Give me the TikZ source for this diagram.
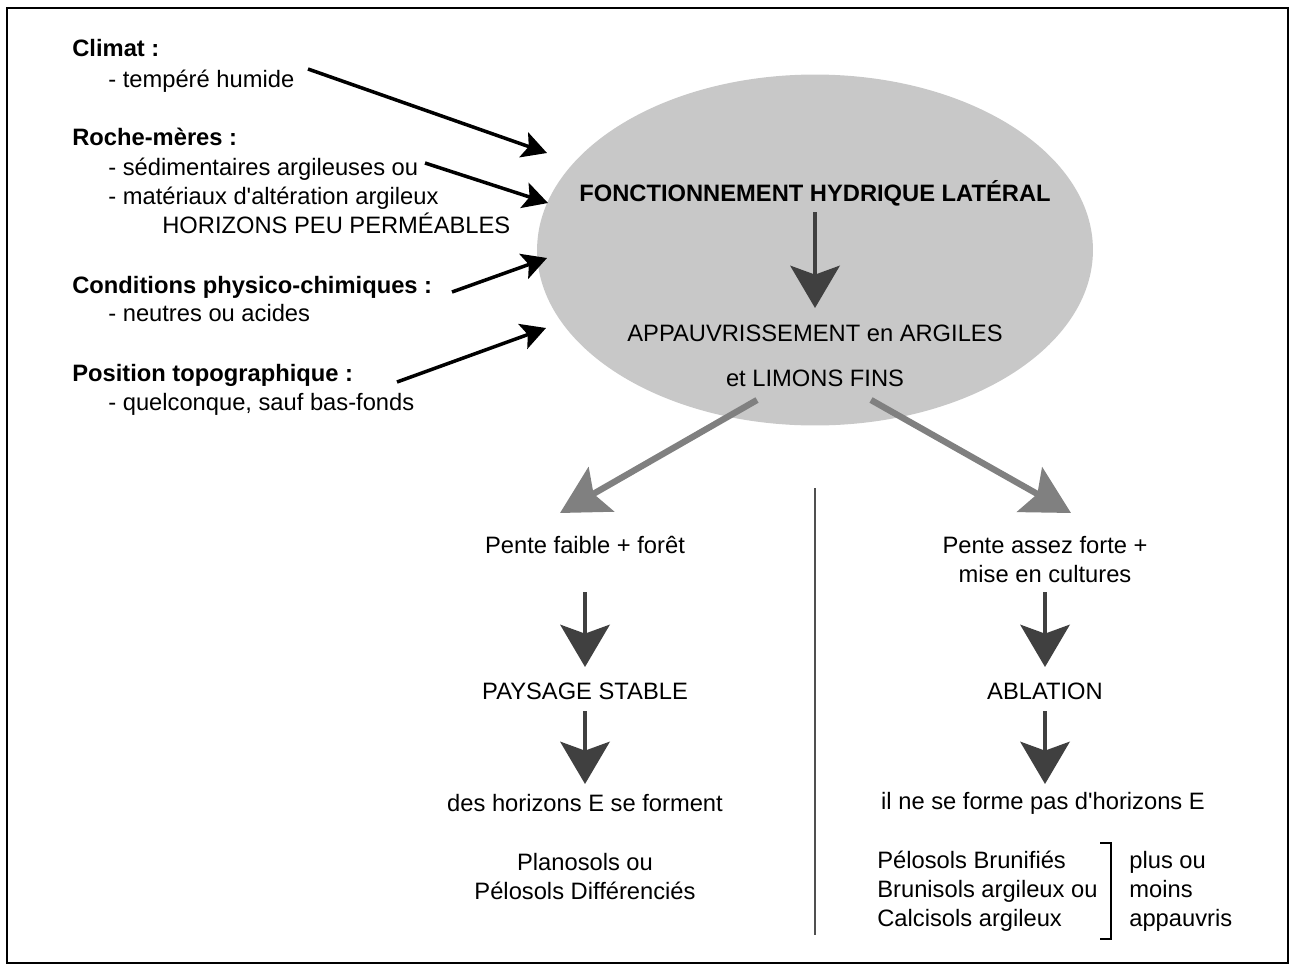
\documentclass[tikz,border=0pt]{standalone}
\usepackage{fontspec}
\setmainfont{Liberation Sans}
\usetikzlibrary{arrows.meta,positioning,shapes.geometric}
\definecolor{ellgris}{RGB}{200,200,200}
\definecolor{flgris} {RGB}{128,128,128}
\definecolor{flnoir} {RGB}{ 64, 64, 64}
\definecolor{sepgris}{RGB}{ 80, 80, 80}

\tikzset{
  txt/.style={font=\fontsize{13.5}{16.5}\selectfont, inner sep=0pt},
  titre/.style={txt, font=\fontsize{13.5}{16.5}\selectfont\bfseries},
  flnoire/.style={-{Stealth[length=14pt,width=15pt,inset=3pt]}, line width=2pt, black},
  flsombre/.style={-{Stealth[length=24pt,width=28pt,inset=5pt]}, line width=2.8pt, flnoir},
  flclaire/.style={-{Stealth[length=27pt,width=29pt,inset=5pt]}, line width=3.6pt, flgris},
}
\newcommand{\apos}{\textquotesingle}

\begin{document}
\begin{tikzpicture}[x=0.02cm, y=-0.02cm]
\useasboundingbox (0,0) rectangle (1293,970);
\draw[line width=1pt] (7,8) rectangle (1288,963);

% facteurs
\node[titre, anchor=mid west] (clim)  at (72,52)  {Climat :};
\node[txt,   anchor=mid west] (clim1) at (108,83) {- tempéré humide};
\node[titre, anchor=mid west] (roch)  at (72,141) {Roche-mères :};
\node[txt,   anchor=mid west] (roch1) at (108,171) {- sédimentaires argileuses ou};
\node[txt,   anchor=mid west] (roch2) at (108,200) {- matériaux d\apos altération argileux};
\node[txt,   anchor=mid west] (roch3) at (162,229) {HORIZONS PEU PERMÉABLES};
\node[titre, anchor=mid west] (cond)  at (72,289) {Conditions physico-chimiques :};
\node[txt,   anchor=mid west] (cond1) at (108,317) {- neutres ou acides};
\node[titre, anchor=mid west] (posi)  at (72,377) {Position topographique :};
\node[txt,   anchor=mid west] (posi1) at (108,406) {- quelconque, sauf bas-fonds};

% ellipse centrale
\node[ellipse, fill=ellgris, inner sep=0pt, minimum width=11.12cm, minimum height=7.02cm] (ell) at (815,250) {};
\node[titre] (fonc) at (815,193) {FONCTIONNEMENT HYDRIQUE LATÉRAL};
\node[txt]   (appa) at (815,333) {APPAUVRISSEMENT en ARGILES};
\node[txt]   (limo) at (815,378) {et LIMONS FINS};

% bouts des fleches
\coordinate (c1a) at (308,69);  \coordinate (c1b) at (547,153);
\coordinate (c2a) at (425,163); \coordinate (c2b) at (548,203);
\coordinate (c3a) at (452,292); \coordinate (c3b) at (547,258);
\coordinate (c4a) at (397,382); \coordinate (c4b) at (546,328);
\coordinate (gga) at (757,400); \coordinate (ggb) at (560,513);
\coordinate (gda) at (871,400); \coordinate (gdb) at (1071,513);

\draw[flnoire] (c1a) -- (c1b);
\draw[flnoire] (c2a) -- (c2b);
\draw[flnoire] (c3a) -- (c3b);
\draw[flnoire] (c4a) -- (c4b);

\draw[flsombre, shorten <=0.38cm, shorten >=0.5cm] (fonc.center) -- (appa.center);
\draw[flclaire] (gga) -- (ggb);
\draw[flclaire] (gda) -- (gdb);

% separation
\draw[sepgris, line width=1.2pt] (815,488) -- (815,935);

% branche gauche
\node[txt] (pfai) at (585,545) {Pente faible + forêt};
\node[txt] (pays) at (585,691) {PAYSAGE STABLE};
\node[txt] (dhor) at (585,803) {des horizons E se forment};
\node[txt, align=center] (plan) at (585,877) {Planosols ou\\Pélosols Différenciés};
\draw[flsombre, shorten <=0.94cm, shorten >=0.48cm] (pfai.center) -- (pays.center);
\draw[flsombre, shorten <=0.40cm, shorten >=0.38cm] (pays.center) -- (dhor.center);

% branche droite
\node[txt, align=center] (pfor) at (1045,560) {Pente assez forte +\\mise en cultures};
\node[txt] (abla) at (1045,691) {ABLATION};
\node[txt] (nhor) at (1043,803) {il ne se forme pas d\apos horizons E};
\node[txt, align=left, anchor=west] (pelo) at (877,891) {Pélosols Brunifiés\\Brunisols argileux ou\\Calcisols argileux};
\node[txt, align=left, anchor=west] (plus) at (1129,891) {plus ou\\moins\\appauvris};
\draw[flsombre, shorten <=0.64cm, shorten >=0.48cm] (pfor.center) -- (abla.center);
\draw[flsombre, shorten <=0.40cm, shorten >=0.38cm] (abla.center) -- (abla.center |- nhor.center);
\draw[line width=1.2pt] (1100,843) -- (1111,843) -- (1111,939) -- (1100,939);
\end{tikzpicture}
\end{document}
